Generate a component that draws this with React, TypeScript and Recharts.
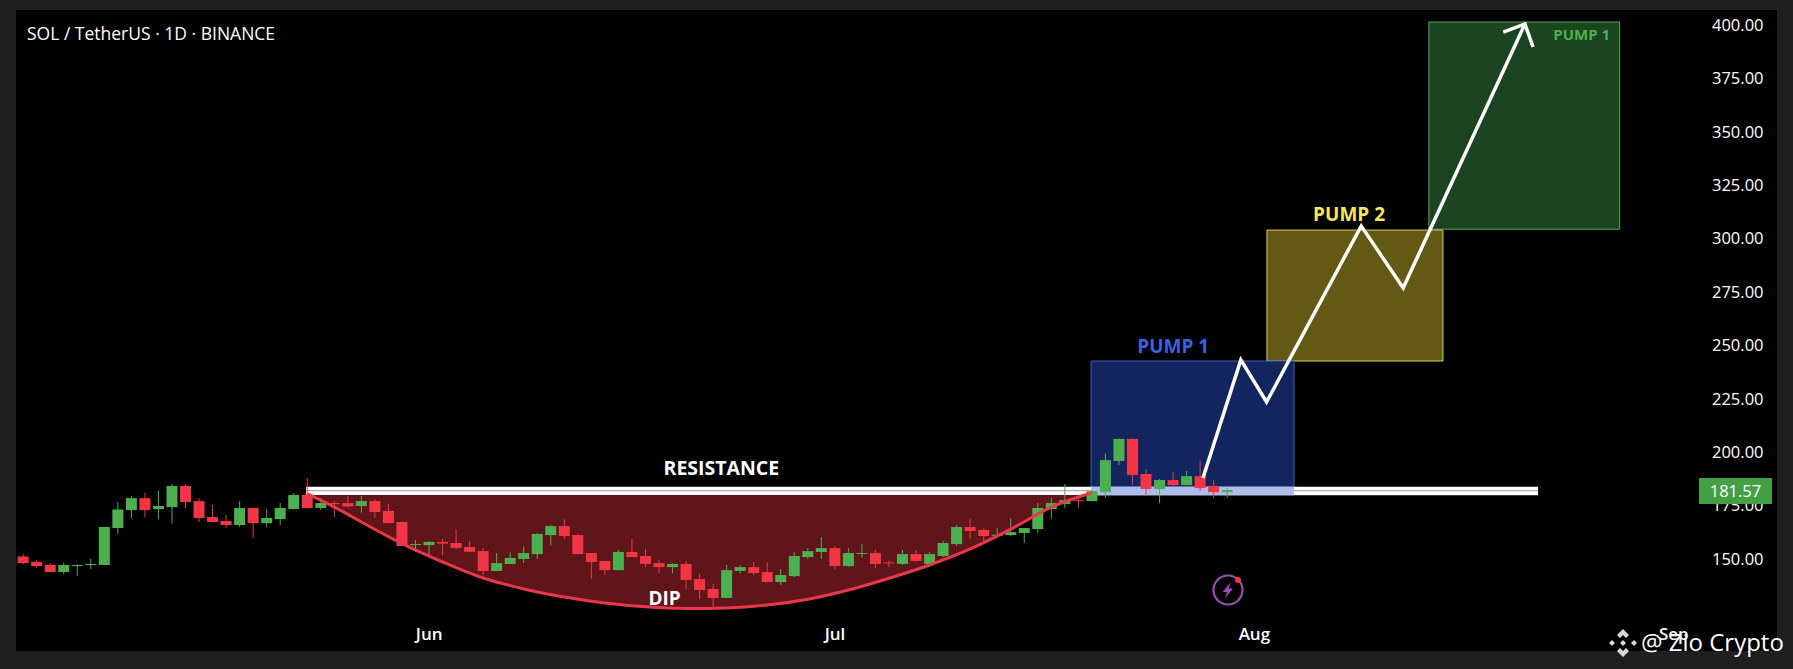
import {
  Area,
  Bar,
  ComposedChart,
  Line,
  ReferenceArea,
  ReferenceDot,
  XAxis,
  YAxis,
} from "recharts";

const FONT = "'Open Sans', sans-serif";
const GREEN = "#4caf50";
const RED = "#f23645";
const CANDLE_WIDTH = 11;

// daily candles, May 2 onwards; index 1 is the first candle
const opens = [
  151.2, 148.7, 147.2, 143.9, 146.9, 147.2, 147.2, 164.5, 172.9, 178.5,
  173.4, 174.3, 184.2, 177.1, 169.6, 167.8, 165.9, 173.9, 166.8, 168.7,
  173.4, 180.0, 173.9, 176.2, 176.2, 174.8, 177.1, 172.5, 167.3, 156.7,
  156.5, 158.0, 157.5, 155.6, 153.7, 144.4, 147.7, 150.0, 152.3, 161.2,
  165.4, 161.2, 152.8, 149.1, 144.8, 153.3, 151.4, 148.1, 146.2, 147.7,
  140.6, 136.0, 131.8, 144.4, 146.2, 143.9, 139.2, 142.0, 150.9, 153.3,
  155.1, 146.7, 152.5, 152.8, 148.4, 147.7, 152.3, 147.7, 151.4, 157.0,
  165.0, 163.6, 160.9, 161.2, 162.2, 164.0, 173.4, 175.7, 177.5, 177.1,
  181.3, 195.9, 206.2, 189.8, 182.8, 187.0, 184.6, 188.8, 184.2, 181.3,
];
const highs = [
  152.3, 149.5, 148.1, 148.1, 147.5, 150.3, 165.1, 176.7, 179.5, 181.0,
  182.0, 185.1, 185.1, 178.5, 175.3, 170.6, 177.1, 173.9, 173.5, 176.2,
  180.9, 187.9, 178.4, 177.1, 179.5, 179.5, 178.1, 175.7, 167.5, 158.9,
  158.4, 159.4, 164.0, 158.4, 155.0, 152.8, 153.1, 155.8, 162.2, 165.9,
  168.7, 161.7, 152.8, 149.1, 154.2, 159.4, 154.7, 149.5, 148.0, 149.1,
  143.0, 138.3, 147.2, 147.2, 148.6, 148.6, 145.3, 153.3, 155.1, 160.3,
  156.1, 155.1, 157.0, 154.2, 149.2, 154.2, 154.2, 153.3, 158.4, 165.8,
  168.7, 164.5, 164.5, 169.0, 164.5, 176.2, 178.5, 185.1, 179.2, 182.3,
  199.4, 206.6, 206.5, 192.1, 187.4, 190.6, 191.2, 196.0, 187.0, 183.1,
];
const lows = [
  147.5, 146.1, 143.9, 143.0, 142.0, 145.3, 147.2, 161.7, 169.0, 169.5,
  168.5, 166.7, 173.9, 167.3, 167.2, 164.5, 165.1, 159.7, 165.0, 165.9,
  173.2, 173.9, 172.9, 169.6, 174.2, 171.7, 169.3, 166.8, 156.1, 153.4,
  151.4, 151.9, 154.7, 153.3, 142.5, 144.4, 147.5, 148.1, 150.0, 156.5,
  159.4, 152.3, 140.6, 142.5, 144.8, 150.9, 146.2, 143.3, 143.4, 136.0,
  131.3, 127.5, 131.6, 143.0, 142.5, 139.2, 137.8, 141.6, 150.0, 150.0,
  145.3, 146.4, 150.5, 145.8, 146.2, 147.2, 148.6, 147.2, 150.9, 156.1,
  159.4, 157.9, 160.3, 160.8, 157.5, 162.2, 168.9, 173.9, 173.9, 177.0,
  178.5, 194.0, 184.6, 179.5, 176.2, 184.2, 184.5, 181.8, 178.5, 178.7,
];
const closes = [
  148.1, 146.7, 143.9, 147.2, 147.2, 147.7, 165.0, 173.2, 178.5, 172.9,
  174.8, 184.2, 176.7, 169.2, 167.3, 165.9, 173.9, 166.8, 169.2, 173.9,
  180.0, 173.9, 176.2, 175.9, 174.6, 177.1, 172.0, 166.8, 156.1, 157.0,
  158.0, 157.2, 155.2, 153.4, 144.4, 148.1, 150.5, 152.8, 161.7, 165.4,
  160.8, 152.3, 148.6, 144.8, 153.3, 150.9, 147.7, 146.2, 147.7, 140.2,
  135.5, 131.8, 144.8, 146.2, 143.4, 139.2, 142.5, 151.4, 153.7, 155.1,
  146.7, 152.8, 152.8, 147.7, 148.0, 152.3, 149.1, 152.3, 157.5, 165.0,
  163.1, 160.8, 161.4, 162.6, 164.5, 173.9, 176.2, 177.6, 177.1, 181.8,
  196.3, 206.2, 189.3, 182.8, 187.0, 184.6, 188.8, 183.2, 181.3, 182.3,
];

const monthTicks = [31, 61, 92, 123];
const monthLabels = ["Jun", "Jul", "Aug", "Sep"];
const priceTicks = [150, 175, 200, 225, 250, 275, 300, 325, 350, 375, 400];

// the rounded bottom under the resistance line
const dipDays = [22, 24, 27, 29, 32, 35, 38, 41, 44, 47, 50, 53, 56, 59, 62, 65, 68, 71, 74, 77, 80];
const dipPrices = [
  180.5, 174.3, 163.8, 157.2, 148.6, 141.1, 136.0, 132.2, 129.4, 127.6, 126.8,
  127.1, 128.5, 131.2, 135.5, 141.0, 147.2, 154.7, 164.0, 174.3, 181.0,
];
const dipTop = 180;

// projected path drawn over the zones
const pathDays = [88.2, 91.0, 92.9, 99.9, 103.0, 112.0];
const pathPrices = [187.9, 243.2, 223.5, 305.9, 276.9, 400.5];
const arrowDays = [110.4, 112.0, 112.6];
const arrowPrices = [396.7, 400.5, 389.7];

const rows = opens.map((open, i) => ({
  day: i + 1,
  open,
  high: highs[i],
  low: lows[i],
  close: closes[i],
  range: [lows[i], highs[i]],
}));
const dipRows = dipDays.map((day, i) => ({ day, low: dipPrices[i], band: [dipPrices[i], dipTop] }));
const pathRows = pathDays.map((day, i) => ({ day, price: pathPrices[i] }));
const arrowRows = arrowDays.map((day, i) => ({ day, price: arrowPrices[i] }));

function Candle(props: any) {
  const { x, y, width, height, payload } = props;
  const { open, high, low, close } = payload;
  const toY = (v: number) => y + ((high - v) / (high - low)) * height;
  const color = close >= open ? GREEN : RED;
  const top = toY(Math.max(open, close));
  const bottom = toY(Math.min(open, close));
  const cx = x + width / 2;
  return (
    <g>
      <line x1={cx} x2={cx} y1={y} y2={y + height} stroke={color} strokeWidth={1} />
      <rect x={cx - CANDLE_WIDTH / 2} y={top} width={CANDLE_WIDTH} height={Math.max(bottom - top, 1)} fill={color} />
    </g>
  );
}

function TextMark({ day, price, text, color, size }: any) {
  return (
    <ReferenceDot
      x={day}
      y={price}
      r={0}
      stroke="none"
      fill="none"
      label={{ value: text, position: "center", fill: color, fontSize: size, fontWeight: 700, fontFamily: FONT }}
    />
  );
}

export default function App() {
  return (
    <div style={{ position: "absolute", left: 0, top: 0, width: 1793, height: 669, background: "#1f1f1f", overflow: "hidden" }}>
      <div style={{ position: "absolute", left: 16, top: 10, width: 1761, height: 641, background: "#000" }} />
      <ComposedChart
        width={1793}
        height={669}
        data={rows}
        margin={{ top: 10, right: 0, bottom: 0, left: 16 }}
        style={{ position: "absolute", left: 0, top: 0 }}
      >
        <XAxis
          dataKey="day"
          type="number"
          domain={[0.46, 125.31]}
          ticks={monthTicks}
          tickFormatter={(v) => monthLabels[monthTicks.indexOf(v)]}
          axisLine={false}
          tickLine={false}
          tickMargin={2}
          height={49}
          tick={{ fill: "#fff", fontSize: 17, fontWeight: 600, fontFamily: FONT }}
        />
        <YAxis
          orientation="right"
          domain={[121.45, 407.02]}
          ticks={priceTicks}
          tickFormatter={(v) => v.toFixed(2)}
          axisLine={false}
          tickLine={false}
          tickMargin={1}
          width={88}
          tick={{ fill: "#fff", fontSize: 16.5, fontFamily: FONT, textAnchor: "start" }}
        />
        <ReferenceArea x1={104.9} x2={119} y1={304.4} y2={401.4} fill="#1d4420" fillOpacity={1} stroke="#5da35f" />
        <ReferenceArea x1={92.93} x2={105.94} y1={242.7} y2={304} fill="#635915" fillOpacity={1} stroke="#d6cc5a" />
        <ReferenceArea x1={79.93} x2={94.93} y1={180.9} y2={242.7} fill="#12255e" fillOpacity={1} stroke="#3f5fc4" />
        <ReferenceArea x1={21.9} x2={112.97} y1={179.9} y2={183.8} fill="#fff" fillOpacity={1} stroke="none" />
        <ReferenceArea x1={21.9} x2={112.97} y1={181.7} y2={182.3} fill="#b9aca0" fillOpacity={1} stroke="none" />
        <ReferenceArea x1={79.93} x2={94.93} y1={179.9} y2={183.8} fill="#aebcec" fillOpacity={1} stroke="none" />
        <Area
          data={dipRows}
          dataKey="band"
          type="monotone"
          fill="#5f1519"
          fillOpacity={1}
          stroke="none"
          dot={false}
          activeDot={false}
          isAnimationActive={false}
        />
        <Line
          data={dipRows}
          dataKey="low"
          type="monotone"
          stroke="#e8374a"
          strokeWidth={3}
          dot={false}
          activeDot={false}
          isAnimationActive={false}
        />
        <Bar dataKey="range" barSize={11} shape={<Candle />} isAnimationActive={false} />
        <Line
          data={pathRows}
          dataKey="price"
          type="linear"
          stroke="#fff"
          strokeWidth={3.5}
          dot={false}
          activeDot={false}
          isAnimationActive={false}
        />
        <Line
          data={arrowRows}
          dataKey="price"
          type="linear"
          stroke="#fff"
          strokeWidth={3.5}
          dot={false}
          activeDot={false}
          isAnimationActive={false}
        />
        {TextMark({ day: 52.6, price: 192.5, text: "RESISTANCE", color: "#fff", size: 19.5 })}
        {TextMark({ day: 48.4, price: 131.7, text: "DIP", color: "#fff", size: 19 })}
        {TextMark({ day: 86, price: 249.5, text: "PUMP 1", color: "#3a62e0", size: 19 })}
        {TextMark({ day: 99, price: 311.5, text: "PUMP 2", color: "#f5e85a", size: 19 })}
        {TextMark({ day: 116.2, price: 395.5, text: "PUMP 1", color: "#4caf50", size: 15 })}
      </ComposedChart>

      <div style={{ position: "absolute", left: 27, top: 22, color: "#fff", fontFamily: FONT, fontSize: 17.5, fontWeight: 500, lineHeight: "22px", whiteSpace: "nowrap" }}>
        SOL / TetherUS · 1D · BINANCE
      </div>
      <div style={{ position: "absolute", left: 1699, top: 478, width: 73, height: 26, background: "#43a047", color: "#fff", fontFamily: FONT, fontSize: 16.5, lineHeight: "26px", textAlign: "center" }}>
        181.57
      </div>
      <svg width={36} height={36} style={{ position: "absolute", left: 1210, top: 572 }}>
        <circle cx={18} cy={18} r={14.5} fill="none" stroke="#9c4fb0" strokeWidth={2.2} />
        <path d="M21 10 L12.5 20 L17 20 L14.5 26.5 L23 16.5 L18.5 16.5 Z" fill="#9c4fb0" />
        <circle cx={28} cy={8} r={3} fill="#f23645" />
      </svg>
      <svg width={28} height={28} style={{ position: "absolute", left: 1609, top: 629 }}>
        <g fill="#d8d8d8">
          <path d="M14 0 L20 6 L17 9 L14 6 L11 9 L8 6 Z" />
          <path d="M14 28 L20 22 L17 19 L14 22 L11 19 L8 22 Z" />
          <path d="M0 14 L3 11 L6 14 L3 17 Z" />
          <path d="M28 14 L25 11 L22 14 L25 17 Z" />
          <path d="M14 11 L17 14 L14 17 L11 14 Z" />
        </g>
      </svg>
      <div style={{ position: "absolute", left: 1641, top: 626, color: "#fff", fontFamily: FONT, fontSize: 24, lineHeight: "32px", whiteSpace: "nowrap" }}>
        @ Zio Crypto
      </div>
    </div>
  );
}
